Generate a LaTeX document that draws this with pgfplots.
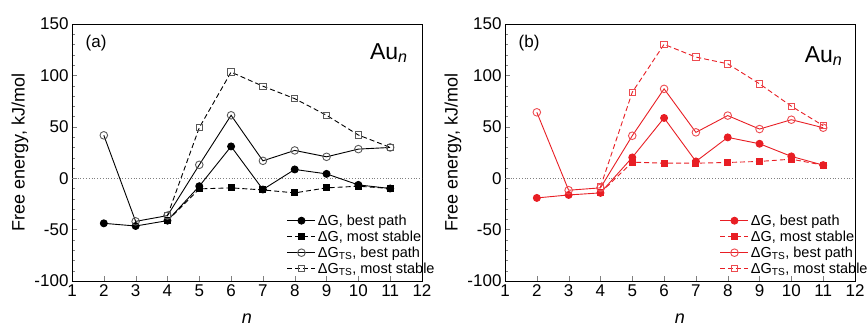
\documentclass[border=0pt]{standalone}
\usepackage{pgfplots}
\pgfplotsset{compat=1.18}
\usepackage{fontspec}
\setmainfont{Liberation Sans}
\definecolor{myred}{RGB}{232,30,36}
\pgfplotsset{
  panel/.style={
    scale only axis, width=350pt, height=257pt,
    xmin=1, xmax=12, ymin=-100, ymax=150,
    xtick={1,...,12}, ytick={-100,-50,...,150},
    minor y tick num=4, tick align=inside, tick pos=left,
    major tick length=5pt, minor tick length=3pt,
    /pgf/number format/assume math mode=true,
    tick label style={font=\fontsize{17}{20}\selectfont},
    ylabel={Free energy, kJ/mol},
    ylabel style={font=\fontsize{18}{21}\selectfont, at={(axis description cs:-0.149,0.5)}, anchor=center},
    xlabel={\textit{n}},
    xlabel style={font=\fontsize{18}{21}\selectfont, at={(axis description cs:0.5,-0.148)}, anchor=center},
    legend style={draw=none, fill=none, font=\fontsize{14.5}{16}\selectfont,
      at={(axis description cs:1.045,0.012)}, anchor=south east,
      row sep=0pt, inner sep=1pt},
    legend cell align=left,
    legend image code/.code={\draw[mark repeat=2,mark phase=2,##1] plot coordinates {(0pt,0pt) (14pt,0pt) (28pt,0pt)};},
    axis line style={line width=0.8pt},
  },
  dashstyle/.style={dash pattern=on 5pt off 3pt},
}
\begin{document}
\begin{tikzpicture}
\useasboundingbox (-72pt,-50pt) rectangle (796pt,281pt);
\begin{axis}[panel, at={(0pt,0pt)}, anchor=south west]
\addplot[gray, dotted, line width=0.8pt, forget plot] coordinates {(1,0) (12,0)};
\addplot[black, line width=0.9pt, mark=*, mark size=3.5pt] coordinates {
(2,-43.9) (3,-46.5) (4,-41.3) (5,-7.8) (6,30.9) (7,-11) (8,8.5) (9,4.2) (10,-6.5) (11,-10)};
\addlegendentry{ΔG, best path}
\addplot[black, line width=0.9pt, dashstyle, mark=square*, mark size=3pt, mark options={solid}] coordinates {
(4,-41.3) (5,-10.4) (6,-9.4) (7,-11.4) (8,-14.3) (9,-9.4) (10,-7.8) (11,-10)};
\addlegendentry{ΔG, most stable}
\addplot[black, line width=0.9pt, mark=o, mark size=3.8pt, mark options={fill=white, draw=gray!70!black}] coordinates {
(2,41.7) (3,-42) (4,-36.4) (5,13) (6,61.2) (7,16.9) (8,27) (9,20.8) (10,28.3) (11,29.9)};
\addlegendentry{ΔG\textsubscript{TS}, best path}
\addplot[black, line width=0.9pt, dashstyle, mark=square, mark size=3.2pt, mark options={solid, fill=white, draw=gray!70!black}] coordinates {
(4,-36.4) (5,49.1) (6,103.2) (7,89.5) (8,77.4) (9,61.2) (10,42) (11,30)};
\addlegendentry{ΔG\textsubscript{TS}, most stable}
\node[anchor=west, font=\fontsize{17}{20}\selectfont] at (axis description cs:0.029,0.926) {(a)};
\node[anchor=east, font=\fontsize{23}{26}\selectfont] at (axis description cs:0.969,0.887) {Au\textsubscript{\textit{n}}};
\end{axis}
\begin{axis}[panel, at={(433pt,0pt)}, anchor=south west]
\addplot[gray, dotted, line width=0.8pt, forget plot] coordinates {(1,0) (12,0)};
\addplot[myred, line width=0.9pt, mark=*, mark size=3.5pt] coordinates {
(2,-19.2) (3,-16.3) (4,-14.3) (5,20.2) (6,58.6) (7,16.3) (8,39.7) (9,33.5) (10,21.2) (11,12.7)};
\addlegendentry{ΔG, best path}
\addplot[myred, line width=0.9pt, dashstyle, mark=square*, mark size=3pt, mark options={solid}] coordinates {
(4,-14.3) (5,15.6) (6,14.6) (7,14.6) (8,15.3) (9,16.3) (10,18.5) (11,12.7)};
\addlegendentry{ΔG, most stable}
\addplot[myred, line width=0.9pt, mark=o, mark size=3.8pt, mark options={fill=white, draw=myred!80}] coordinates {
(2,64.1) (3,-11.7) (4,-9.4) (5,41.3) (6,86.9) (7,44.6) (8,60.9) (9,47.8) (10,56.9) (11,49.1)};
\addlegendentry{ΔG\textsubscript{TS}, best path}
\addplot[myred, line width=0.9pt, dashstyle, mark=square, mark size=3.2pt, mark options={solid, fill=white, draw=myred!80}] coordinates {
(4,-8.4) (5,83.6) (6,130.2) (7,117.8) (8,111.3) (9,91.8) (10,70) (11,51.1)};
\addlegendentry{ΔG\textsubscript{TS}, most stable}
\node[anchor=west, font=\fontsize{17}{20}\selectfont] at (axis description cs:0.029,0.926) {(b)};
\node[anchor=east, font=\fontsize{23}{26}\selectfont] at (axis description cs:0.974,0.875) {Au\textsubscript{\textit{n}}};
\end{axis}
\end{tikzpicture}
\end{document}
